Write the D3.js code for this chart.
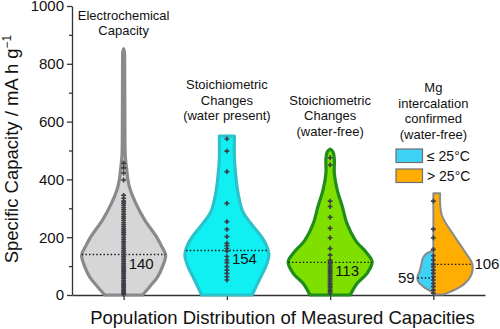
<!DOCTYPE html>
<html>
<head>
<meta charset="utf-8">
<script src="https://cdn.jsdelivr.net/npm/d3@7"></script>
<style>
  body { margin: 0; background: #fff; }
  svg { display: block; font-family: Arial, "Liberation Sans", sans-serif; }
</style>
</head>
<body>
<script>
// x categories and their multi-line captions
var categories = ["electro", "stoichWet", "stoichDry", "mgConfirmed"];
var categoryLines = [
  ["Electrochemical", "Capacity"],
  ["Stoichiometric", "Changes", "(water present)"],
  ["Stoichiometric", "Changes", "(water-free)"],
  ["Mg", "intercalation", "confirmed", "(water-free)"]
];

// violin outlines: [capacity, relative density]
var profileElectro = [[0, .45], [30, .63], [63, .81], [100, .93], [138, 1], [170, .9], [202, .78],
  [260, .5], [317, .29], [363, .16], [400, .1], [432, .075], [480, .04], [600, .03], [800, .025], [840, .02], [852, 0]];
var profileWet = [[0, .6], [58, .79], [100, .93], [138, 1], [175, .93], [208, .79], [242, .6],
  [288, .38], [357, .26], [415, .21], [473, .18], [550, .18]];
var profileDry = [[0, .48], [40, .64], [75, .88], [115, 1], [144, .88], [190, .6], [248, .4],
  [306, .29], [363, .17], [421, .1], [470, .1], [495, .07], [505, 0]];
// Mg split violin: low temperature (left half) and high temperature (right half)
var profileCold = [[6, 0], [11, .04], [29, .24], [46, .36], [63, .38], [81, .33], [104, .29],
  [127, .25], [144, .16], [150, .07], [156, 0]];
var profileHot = [[2, .24], [11, .4], [35, .71], [69, .9], [106, .93], [150, .75], [208, .48],
  [277, .2], [352, .16]];

// individual measurements
var dotsElectro = [456, 440, 422, 398, 345, 335, 325, 318, 310, 302, 295, 288, 280, 272, 265, 258,
  250, 243, 236, 229, 222, 215, 208, 200, 193, 186, 180, 173, 166, 160, 153, 147, 140, 134, 128,
  122, 116, 110, 104, 98, 92, 86, 80, 74, 68, 62, 56, 50, 45, 40, 35, 30, 25, 20, 15, 10, 5, 2];
var dotsWet = [540, 498, 427, 317, 254, 227, 202, 179, 171, 161, 152, 133, 121, 112, 98, 86, 75, 63, 52];
var dotsDry = [475, 450, 325, 306, 269, 231, 198, 161, 138, 121, 110, 98, 86, 75, 63, 52, 40, 29,
  17, 6, 12, 24, 35, 46, 57, 69, 80, 92, 104, 116];
var dotsMg = [325, 228, 198, 158, 136, 121, 107, 98, 86, 75, 63, 52, 40, 29, 17, 6];

var medians = [140, 154, 113];
var medianCold = 59;
var medianHot = 106;

var yTicks = [0, 200, 400, 600, 800, 1000];
var yMinorTicks = [100, 300, 500, 700, 900];
var legendLabels = ["\u2264 25\u00B0C", "> 25\u00B0C"];

var svgWidth = 500, svgHeight = 329;
var margin = { top: 6, right: 15, bottom: 34, left: 72 };

var svg = d3.select("body").append("svg")
  .attr("width", svgWidth)
  .attr("height", svgHeight);

var x = d3.scalePoint()
  .domain(categories)
  .range([margin.left, svgWidth - margin.right])
  .padding(0.5);

var y = d3.scaleLinear()
  .domain([0, 1000])
  .range([svgHeight - margin.bottom, margin.top]);

// relative density -> half width in px
var w = d3.scaleLinear().domain([0, 1]).range([0, 42]);

var styles = [
  { fill: "#d6d6d6", stroke: "#8a8a8a", sw: 3.2 },
  { fill: "#10f0f2", stroke: "#2bc3cb", sw: 3.2 },
  { fill: "#7fe000", stroke: "#1f8c1c", sw: 3.2 }
];
var coldFill = "#3fd2f7", hotFill = "#ffad01", mgStroke = "#8a8a8a";

function violinPath(cx, profile, side) {
  // side: 0 full, -1 left half, 1 right half
  return d3.area()
    .curve(d3.curveCatmullRom)
    .y(function(d) { return y(d[0]); })
    .x0(function(d) { return side === 1 ? cx : cx - w(d[1]); })
    .x1(function(d) { return side === -1 ? cx : cx + w(d[1]); })(profile);
}

function widthAt(profile, v) {
  return w(d3.scaleLinear()
    .domain(profile.map(function(p) { return p[0]; }))
    .range(profile.map(function(p) { return p[1]; }))(v));
}

// axes
var yAxis = svg.append("g")
  .attr("transform", "translate(" + margin.left + ",0)")
  .attr("font-family", null)
  .call(d3.axisLeft(y).tickValues(yTicks).tickFormat(d3.format("d")).tickSize(5).tickPadding(3).tickSizeOuter(0));
yAxis.attr("font-family", null).attr("font-size", null);
yAxis.selectAll("text").attr("font-size", 15).attr("fill", "#111");
svg.append("g")
  .attr("transform", "translate(" + margin.left + ",0)")
  .call(d3.axisLeft(y).tickValues(yMinorTicks).tickSize(3).tickFormat("").tickSizeOuter(0))
  .select(".domain").remove();

svg.append("g")
  .attr("transform", "translate(0," + y(0) + ")")
  .call(d3.axisBottom(x).tickSize(5).tickFormat("").tickSizeOuter(0));

svg.selectAll(".domain, .tick line").attr("stroke", "#333").attr("stroke-width", 1.3);

// violins for the first three groups
var fullProfiles = [profileElectro, profileWet, profileDry];
var fullDots = [dotsElectro, dotsWet, dotsDry];

fullProfiles.forEach(function(profile, i) {
  var cx = x(categories[i]);
  svg.append("path")
    .attr("d", violinPath(cx, profile, 0))
    .attr("fill", styles[i].fill)
    .attr("stroke", styles[i].stroke)
    .attr("stroke-width", styles[i].sw)
    .attr("stroke-linejoin", "round");
});

// Mg group: split violin
var cx4 = x(categories[3]);
svg.append("path")
  .attr("d", violinPath(cx4, profileHot, 1))
  .attr("fill", hotFill).attr("stroke", mgStroke).attr("stroke-width", 2).attr("stroke-linejoin", "round");
svg.append("path")
  .attr("d", violinPath(cx4, profileCold, -1))
  .attr("fill", coldFill).attr("stroke", mgStroke).attr("stroke-width", 2).attr("stroke-linejoin", "round");

// median lines
var dotted = function(sel) {
  return sel.attr("stroke", "#111").attr("stroke-width", 1.4).attr("stroke-dasharray", "1.4,2.2");
};
medians.forEach(function(m, i) {
  var cx = x(categories[i]);
  var hw = widthAt(fullProfiles[i], m);
  dotted(svg.append("line")
    .attr("x1", cx - hw).attr("x2", cx + hw)
    .attr("y1", y(m)).attr("y2", y(m)));
});
dotted(svg.append("line")
  .attr("x1", cx4).attr("x2", cx4 + widthAt(profileHot, medianHot))
  .attr("y1", y(medianHot)).attr("y2", y(medianHot)));
dotted(svg.append("line")
  .attr("x1", cx4 - widthAt(profileCold, medianCold)).attr("x2", cx4)
  .attr("y1", y(medianCold)).attr("y2", y(medianCold)));

// data points
var symbol = d3.symbol().type(d3.symbolCross).size(13);
fullDots.concat([dotsMg]).forEach(function(dots, i) {
  var cx = x(categories[i]);
  svg.append("g").selectAll("path")
    .data(dots)
    .enter()
    .append("path")
    .attr("d", symbol)
    .attr("transform", function(d) { return "translate(" + cx + "," + y(d) + ")"; })
    .attr("fill", "#3d3d45");
});

// median value labels
medians.forEach(function(m, i) {
  svg.append("text")
    .attr("x", x(categories[i]) + 5)
    .attr("y", y(m) + 14)
    .attr("font-size", 15)
    .attr("fill", "#111")
    .text(m);
});
svg.append("text")
  .attr("x", cx4 + widthAt(profileHot, medianHot) + 2)
  .attr("y", y(medianHot) + 5)
  .attr("font-size", 15).attr("fill", "#111")
  .text(medianHot);
svg.append("text")
  .attr("x", cx4 - widthAt(profileCold, medianCold) - 3)
  .attr("y", y(medianCold) + 5)
  .attr("text-anchor", "end")
  .attr("font-size", 15).attr("fill", "#111")
  .text(medianCold);

// category captions
var captionTop = [19.5, 89, 104.5, 92];
categoryLines.forEach(function(lines, i) {
  var t = svg.append("text")
    .attr("text-anchor", "middle")
    .attr("font-size", 13)
    .attr("fill", "#111");
  lines.forEach(function(line, j) {
    t.append("tspan")
      .attr("x", x(categories[i]))
      .attr("y", captionTop[i] + j * 15.5)
      .text(line);
  });
});

// temperature legend
[coldFill, hotFill].forEach(function(c, i) {
  svg.append("rect")
    .attr("x", 396).attr("y", 149 + i * 20)
    .attr("width", 26.5).attr("height", 13.5)
    .attr("fill", c).attr("stroke", "#6e6e6e").attr("stroke-width", 1.2);
  svg.append("text")
    .attr("x", 427).attr("y", 160.5 + i * 20)
    .attr("font-size", 14).attr("fill", "#111")
    .text(legendLabels[i]);
});

// axis titles
svg.append("text")
  .attr("x", 282.5).attr("y", 324)
  .attr("text-anchor", "middle")
  .attr("font-size", 18.5)
  .attr("fill", "#111")
  .text("Population Distribution of Measured Capacities");

var yTitle = svg.append("text")
  .attr("transform", "translate(17.5,149) rotate(-90)")
  .attr("text-anchor", "middle")
  .attr("font-size", 18.5)
  .attr("fill", "#111");
yTitle.append("tspan").text("Specific Capacity / mA h g");
yTitle.append("tspan").attr("font-size", 12).attr("dy", -7).text("\u22121");
</script>
</body>
</html>
